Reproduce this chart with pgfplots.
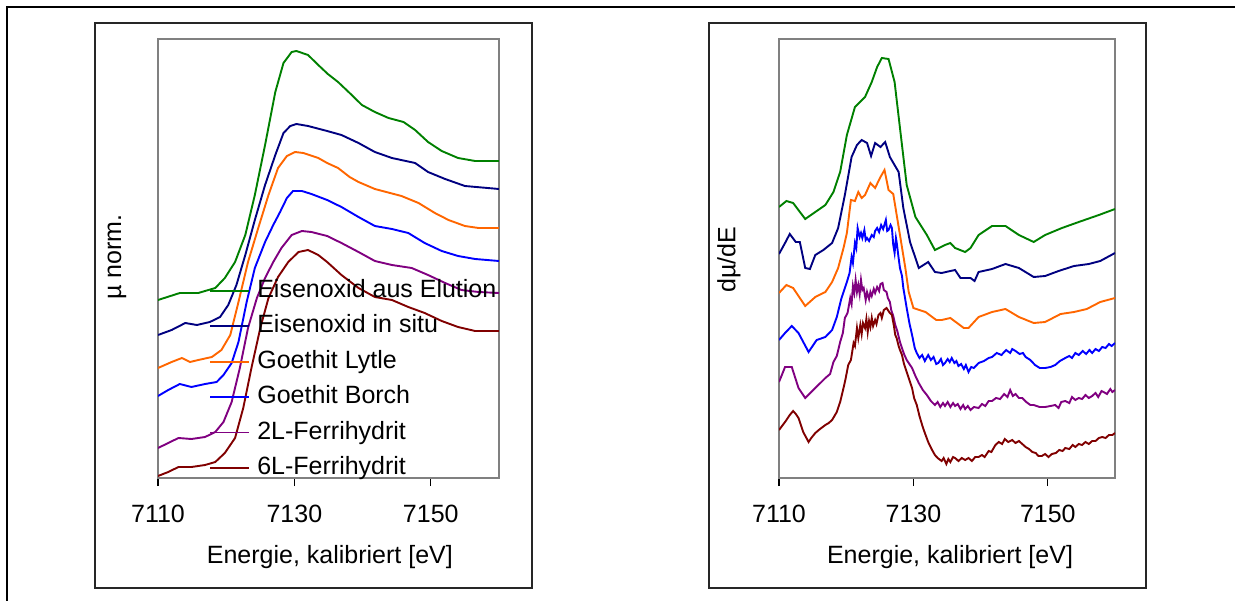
\documentclass[border=0pt]{standalone}
\usepackage{fontspec}
\setmainfont{Liberation Sans}
\usepackage{pgfplots}
\pgfplotsset{compat=1.18}

\definecolor{cgreen}{HTML}{008000}
\definecolor{cnavy}{HTML}{000080}
\definecolor{corange}{HTML}{FF6600}
\definecolor{cblue}{HTML}{0000FF}
\definecolor{cpurple}{HTML}{800080}
\definecolor{cmaroon}{HTML}{800000}

\pgfplotsset{
  xanes/.style={
    scale only axis,
    height=219.5pt,
    xmin=7110, xmax=7160, ymin=0, ymax=4.39,
    xtick={7110,7130,7150}, ytick=\empty,
    xtick pos=bottom,
    tick align=outside,
    major tick length=4pt,
    tick style={black, line width=0.6pt},
    axis line style={draw=gray, line width=0.6pt},
    font=\fontsize{12.5}{15}\selectfont,
    tick label style={font=\fontsize{12.5}{15}\selectfont},
    xticklabel style={anchor=north, inner sep=0pt, yshift=-9.5pt},
    /pgf/number format/1000 sep={},
    /pgf/number format/assume math mode=true,
    every axis plot/.append style={line width=0.95pt},
  }
}

\begin{document}
\begin{tikzpicture}
\useasboundingbox (0pt,0pt) rectangle (617.5pt,300pt);
\draw[line width=1.1pt] (3.65pt,296.5pt) rectangle (660pt,-30pt);
\draw[line width=0.6pt, black!85] (47.5pt,288.5pt) rectangle (266pt,6pt);
\draw[line width=0.6pt, black!85] (354.5pt,288.5pt) rectangle (573pt,6pt);

% left: normalised absorption
\begin{axis}[xanes, at={(79pt,61pt)}, anchor=south west, width=170.5pt,
  xlabel={Energie, kalibriert [eV]},
  xlabel style={at={(axis description cs:0.504,-0.18)}, anchor=center},
  ylabel={µ norm.},
  ylabel style={at={(axis description cs:-0.12,0.503)}, anchor=center},
  legend cell align=left,
  legend image code/.code={\draw[#1, line width=0.95pt] (0pt,0pt) -- (19.5pt,0pt);},
  legend style={draw=none, fill=none, inner sep=0pt,
    at={(axis description cs:0.1496,0.454)}, anchor=north west,
    row sep=5.9pt, column sep=3.5pt,
    nodes={inner sep=0pt, text height=9.2pt, text depth=2.6pt}},
]
\addplot[cgreen] coordinates {
(7110.0,1.78) (7113.2,1.85) (7115.9,1.85) (7118.4,1.90) (7119.8,2.00) (7121.3,2.16)
(7122.8,2.43) (7124.2,2.83) (7125.7,3.33) (7127.2,3.86) (7128.4,4.15) (7129.6,4.26)
(7130.3,4.27) (7132.0,4.23) (7133.5,4.13) (7134.9,4.04) (7136.4,3.96) (7138.1,3.85)
(7139.9,3.73) (7141.8,3.66) (7143.8,3.60) (7146.0,3.56) (7147.7,3.48) (7149.6,3.36)
(7151.6,3.27) (7154.0,3.20) (7156.5,3.17) (7160.0,3.17)};
\addlegendentry{Eisenoxid aus Elution}
\addplot[cnavy] coordinates {
(7110.0,1.43) (7112.0,1.48) (7114.0,1.55) (7115.7,1.53) (7117.6,1.56) (7119.1,1.61)
(7120.3,1.73) (7121.5,1.93) (7122.8,2.23) (7124.2,2.58) (7125.7,2.93) (7127.2,3.23)
(7128.4,3.45) (7129.4,3.52) (7130.3,3.54) (7132.0,3.52) (7134.8,3.47) (7136.9,3.43)
(7139.4,3.35) (7141.8,3.26) (7144.3,3.20) (7147.7,3.15) (7149.6,3.06) (7152.1,2.99)
(7155.0,2.92) (7160.0,2.89)};
\addlegendentry{Eisenoxid in situ}
\addplot[corange] coordinates {
(7110.0,1.10) (7112.0,1.16) (7113.5,1.20) (7114.7,1.16) (7115.9,1.18) (7117.9,1.21)
(7119.3,1.28) (7120.6,1.43) (7121.8,1.76) (7123.2,2.16) (7124.7,2.50) (7126.2,2.83)
(7127.6,3.10) (7128.9,3.22) (7130.1,3.26) (7131.3,3.25) (7133.5,3.20) (7134.8,3.15)
(7136.4,3.10) (7138.1,3.01) (7139.4,2.96) (7141.8,2.89) (7145.7,2.82) (7148.2,2.75)
(7150.6,2.65) (7152.6,2.58) (7155.0,2.52) (7157.0,2.50) (7160.0,2.50)};
\addlegendentry{Goethit Lytle}
\addplot[cblue] coordinates {
(7110.0,0.82) (7111.5,0.88) (7113.2,0.94) (7114.9,0.91) (7116.9,0.94) (7118.6,0.96)
(7119.6,1.03) (7120.8,1.15) (7121.8,1.36) (7123.0,1.76) (7124.2,2.10) (7125.7,2.36)
(7126.9,2.53) (7127.9,2.66) (7128.9,2.80) (7129.8,2.87) (7131.1,2.87) (7132.5,2.84)
(7134.8,2.78) (7136.9,2.71) (7139.4,2.61) (7141.8,2.52) (7144.3,2.49) (7146.7,2.45)
(7149.1,2.35) (7151.6,2.27) (7154.0,2.22) (7156.5,2.19) (7160.0,2.17)};
\addlegendentry{Goethit Borch}
\addplot[cpurple] coordinates {
(7110.0,0.30) (7111.5,0.35) (7113.0,0.40) (7114.9,0.39) (7116.9,0.41) (7118.4,0.46)
(7119.6,0.56) (7120.8,0.76) (7122.0,1.10) (7123.2,1.50) (7124.5,1.80) (7125.7,2.00)
(7126.9,2.16) (7128.1,2.30) (7129.6,2.43) (7131.1,2.47) (7132.5,2.46) (7134.8,2.42)
(7136.9,2.35) (7139.4,2.26) (7141.8,2.17) (7144.3,2.13) (7147.2,2.10) (7149.6,2.03)
(7152.1,1.95) (7154.5,1.88) (7157.0,1.86) (7160.0,1.85)};
\addlegendentry{2L-Ferrihydrit}
\addplot[cmaroon] coordinates {
(7110.0,0.02) (7111.5,0.06) (7113.0,0.11) (7114.9,0.11) (7116.9,0.13) (7118.4,0.16)
(7119.8,0.25) (7121.3,0.40) (7122.5,0.70) (7123.7,1.10) (7125.0,1.50) (7126.2,1.80)
(7127.6,2.01) (7129.1,2.16) (7130.6,2.26) (7132.0,2.28) (7133.5,2.23) (7134.8,2.16)
(7136.9,2.03) (7139.4,1.90) (7141.8,1.81) (7144.3,1.78) (7146.7,1.71) (7149.1,1.65)
(7151.6,1.57) (7154.0,1.51) (7156.5,1.47) (7160.0,1.47)};
\addlegendentry{6L-Ferrihydrit}
\end{axis}

% right: first derivative
\begin{axis}[xanes, at={(389.5pt,61pt)}, anchor=south west, width=168pt,
  xlabel={Energie, kalibriert [eV]},
  xlabel style={at={(axis description cs:0.509,-0.18)}, anchor=center},
  ylabel={dµ/dE},
  ylabel style={at={(axis description cs:-0.149,0.497)}, anchor=center},
]
\addplot[cgreen] coordinates {
(7110.0,2.71) (7111.1,2.77) (7112.1,2.75) (7113.9,2.59) (7115.4,2.66) (7116.9,2.73)
(7118.1,2.86) (7119.1,3.06) (7120.1,3.43) (7121.3,3.71) (7122.8,3.81) (7123.8,3.96)
(7124.6,4.11) (7125.3,4.20) (7126.3,4.19) (7127.2,3.96) (7128.0,3.50) (7129.0,2.93)
(7130.3,2.61) (7132.0,2.43) (7133.2,2.28) (7134.7,2.33) (7135.5,2.35) (7136.2,2.30)
(7137.7,2.26) (7138.5,2.30) (7139.7,2.43) (7141.7,2.52) (7143.7,2.52) (7145.7,2.43)
(7147.9,2.36) (7149.6,2.43) (7152.1,2.50) (7154.6,2.56) (7157.6,2.63) (7160.0,2.69)};
\addplot[cnavy] coordinates {
(7110.0,2.24) (7110.9,2.35) (7111.6,2.44) (7112.5,2.36) (7113.1,2.36) (7113.9,2.10)
(7114.6,2.09) (7115.4,2.23) (7116.6,2.28) (7117.9,2.35) (7118.8,2.50) (7119.8,2.83)
(7120.8,3.21) (7121.6,3.33) (7122.3,3.38) (7123.1,3.35) (7123.7,3.22) (7124.3,3.35)
(7125.1,3.31) (7125.8,3.36) (7126.5,3.21) (7127.8,3.06) (7128.5,2.70) (7129.5,2.36)
(7130.8,2.10) (7132.2,2.16) (7133.2,2.06) (7134.2,2.05) (7135.5,2.07) (7136.2,2.08)
(7137.0,2.00) (7138.5,2.00) (7139.1,1.97) (7139.7,2.06) (7141.7,2.09) (7143.7,2.14)
(7145.7,2.10) (7147.9,2.01) (7149.6,2.02) (7151.6,2.07) (7153.9,2.12) (7156.1,2.14)
(7157.8,2.17) (7160.0,2.25)};
\addplot[corange] coordinates {
(7110.0,1.85) (7111.1,1.93) (7112.1,1.90) (7113.9,1.72) (7115.4,1.81) (7116.9,1.86)
(7117.9,1.96) (7118.8,2.10) (7119.6,2.30) (7120.1,2.45) (7120.7,2.78) (7121.3,2.77)
(7121.8,2.86) (7122.3,2.80) (7122.8,2.83) (7123.6,2.95) (7124.3,2.90) (7125.1,3.01)
(7125.7,3.08) (7126.3,2.88) (7127.0,2.84) (7128.0,2.43) (7128.8,2.10) (7129.3,1.86)
(7130.0,1.70) (7131.8,1.66) (7133.4,1.58) (7134.2,1.58) (7135.5,1.60) (7137.5,1.50)
(7138.2,1.50) (7139.7,1.61) (7141.7,1.66) (7143.7,1.69) (7145.7,1.61) (7147.9,1.55)
(7149.6,1.56) (7151.9,1.64) (7153.9,1.66) (7155.8,1.69) (7157.8,1.76) (7160.0,1.80)};
\addplot[cblue] coordinates {
(7110.0,1.38) (7110.9,1.45) (7111.9,1.52) (7112.9,1.45) (7114.4,1.26) (7115.6,1.38)
(7116.9,1.41) (7117.9,1.48) (7118.6,1.61) (7119.3,1.80) (7120.1,1.96) (7120.5,2.05)
(7120.8,2.21) (7121.0,2.15) (7121.3,2.35) (7121.5,2.30) (7121.7,2.50) (7122.0,2.41)
(7122.2,2.45) (7122.4,2.40) (7122.7,2.48) (7122.9,2.38) (7123.1,2.40) (7123.4,2.37)
(7123.8,2.43) (7124.1,2.41) (7124.3,2.47) (7124.6,2.50) (7124.9,2.46) (7125.2,2.53)
(7125.5,2.49) (7125.9,2.58) (7126.1,2.47) (7126.3,2.48) (7126.6,2.53) (7126.8,2.50)
(7127.0,2.33) (7127.2,2.25) (7127.4,2.40) (7127.5,2.36) (7127.8,2.20) (7128.0,2.10)
(7128.3,2.02) (7128.5,1.90) (7129.0,1.70) (7129.4,1.55) (7129.8,1.43) (7130.2,1.30)
(7130.5,1.25) (7130.9,1.20) (7131.3,1.23) (7131.7,1.17) (7132.2,1.23) (7132.6,1.18)
(7133.0,1.21) (7133.4,1.14) (7133.7,1.15) (7134.1,1.19) (7134.4,1.13) (7134.7,1.15)
(7135.1,1.19) (7135.4,1.16) (7135.7,1.20) (7136.1,1.15) (7136.4,1.17) (7136.7,1.12)
(7137.1,1.14) (7137.5,1.09) (7137.8,1.13) (7138.2,1.06) (7138.6,1.11) (7139.0,1.10)
(7139.7,1.15) (7140.5,1.17) (7141.2,1.20) (7141.7,1.21) (7142.4,1.25) (7143.1,1.23)
(7143.8,1.28) (7144.4,1.25) (7144.7,1.29) (7145.2,1.27) (7145.8,1.24) (7146.3,1.25)
(7146.7,1.21) (7147.4,1.18) (7148.1,1.13) (7148.8,1.10) (7149.6,1.10) (7150.4,1.11)
(7151.1,1.13) (7151.8,1.17) (7152.6,1.20) (7153.2,1.22) (7153.6,1.20) (7154.1,1.25)
(7154.6,1.23) (7155.2,1.27) (7155.7,1.24) (7156.2,1.28) (7156.6,1.25) (7157.1,1.29)
(7157.6,1.27) (7158.1,1.31) (7158.6,1.30) (7159.1,1.34) (7159.5,1.32) (7160.0,1.35)};
\addplot[cpurple] coordinates {
(7110.0,0.96) (7110.9,1.11) (7111.9,1.11) (7112.9,0.90) (7113.9,0.80) (7115.4,0.90)
(7116.9,1.00) (7117.6,1.04) (7118.1,1.16) (7118.6,1.22) (7119.1,1.36) (7119.5,1.45)
(7119.8,1.60) (7120.2,1.65) (7120.6,1.80) (7120.8,1.74) (7121.0,1.92) (7121.2,1.85)
(7121.4,1.98) (7121.6,1.86) (7121.8,1.93) (7122.0,1.84) (7122.2,1.98) (7122.4,1.88)
(7122.6,1.90) (7122.9,1.78) (7123.1,1.86) (7123.4,1.79) (7123.6,1.86) (7123.8,1.82)
(7124.1,1.89) (7124.3,1.85) (7124.6,1.91) (7124.9,1.87) (7125.1,1.94) (7125.4,1.95)
(7125.6,1.88) (7126.0,1.86) (7126.2,1.80) (7126.5,1.76) (7126.7,1.68) (7127.0,1.62)
(7127.3,1.53) (7127.6,1.47) (7128.0,1.36) (7128.3,1.30) (7128.6,1.24) (7129.0,1.18)
(7129.4,1.14) (7129.8,1.10) (7130.3,1.02) (7130.8,0.95) (7131.4,0.88) (7132.0,0.83)
(7132.6,0.77) (7133.2,0.73) (7133.6,0.76) (7134.0,0.71) (7134.4,0.75) (7134.7,0.72)
(7135.1,0.76) (7135.5,0.71) (7135.9,0.75) (7136.2,0.72) (7136.6,0.74) (7137.0,0.69)
(7137.4,0.73) (7137.7,0.69) (7138.1,0.72) (7138.5,0.68) (7139.0,0.71) (7139.7,0.70)
(7140.2,0.74) (7140.7,0.72) (7141.2,0.77) (7141.7,0.77) (7142.3,0.80) (7142.9,0.79)
(7143.5,0.84) (7144.0,0.81) (7144.4,0.88) (7144.8,0.82) (7145.2,0.84) (7145.7,0.80)
(7146.2,0.80) (7146.8,0.76) (7147.4,0.73) (7147.9,0.73) (7148.8,0.71) (7149.6,0.71)
(7150.4,0.72) (7151.1,0.73) (7151.6,0.70) (7152.0,0.76) (7152.6,0.77) (7153.2,0.75)
(7153.6,0.81) (7154.1,0.78) (7154.6,0.80) (7155.1,0.79) (7155.6,0.83) (7156.1,0.80)
(7156.6,0.82) (7157.1,0.85) (7157.5,0.81) (7158.0,0.87) (7158.3,0.86) (7158.8,0.84)
(7159.3,0.89) (7159.6,0.86) (7160.0,0.88)};
\addplot[cmaroon] coordinates {
(7110.0,0.48) (7110.9,0.56) (7111.6,0.63) (7112.1,0.67) (7112.5,0.64) (7112.9,0.60)
(7113.6,0.46) (7114.4,0.36) (7114.8,0.40) (7115.4,0.45) (7116.1,0.49) (7116.9,0.53)
(7117.4,0.55) (7117.9,0.58) (7118.6,0.66) (7119.1,0.76) (7119.6,0.90) (7119.9,0.99)
(7120.3,1.13) (7120.7,1.18) (7121.1,1.35) (7121.3,1.32) (7121.6,1.50) (7121.8,1.40)
(7122.1,1.53) (7122.3,1.44) (7122.5,1.55) (7122.8,1.50) (7123.0,1.59) (7123.2,1.46)
(7123.4,1.57) (7123.6,1.51) (7123.8,1.60) (7124.0,1.52) (7124.3,1.58) (7124.5,1.54)
(7124.8,1.63) (7125.1,1.65) (7125.3,1.60) (7125.6,1.68) (7126.0,1.70) (7126.3,1.67)
(7126.5,1.65) (7126.8,1.63) (7127.1,1.52) (7127.3,1.43) (7127.5,1.40) (7127.8,1.32)
(7128.0,1.28) (7128.3,1.23) (7128.6,1.14) (7129.0,1.06) (7129.3,1.00) (7129.8,0.90)
(7130.1,0.80) (7130.5,0.73) (7130.9,0.62) (7131.3,0.53) (7131.7,0.45) (7132.2,0.36)
(7132.7,0.29) (7133.2,0.23) (7133.6,0.20) (7134.2,0.17) (7134.5,0.20) (7134.9,0.14)
(7135.2,0.19) (7135.5,0.16) (7135.9,0.21) (7136.2,0.20) (7136.7,0.17) (7137.2,0.20)
(7137.7,0.18) (7138.2,0.20) (7138.7,0.17) (7139.2,0.21) (7139.7,0.21) (7140.2,0.23)
(7140.6,0.21) (7141.2,0.27) (7141.6,0.26) (7142.2,0.33) (7142.7,0.36) (7143.2,0.34)
(7143.6,0.39) (7144.1,0.36) (7144.7,0.38) (7145.2,0.35) (7145.7,0.37) (7146.2,0.34)
(7146.7,0.31) (7147.2,0.29) (7147.7,0.26) (7148.2,0.25) (7148.6,0.22) (7149.1,0.22)
(7149.6,0.24) (7150.1,0.21) (7150.6,0.24) (7151.2,0.25) (7151.7,0.28) (7152.2,0.27)
(7152.6,0.30) (7153.2,0.29) (7153.7,0.33) (7154.1,0.31) (7154.6,0.34) (7155.1,0.33)
(7155.6,0.36) (7156.1,0.34) (7156.6,0.37) (7157.1,0.37) (7157.6,0.40) (7158.1,0.41)
(7158.6,0.40) (7159.1,0.43) (7159.6,0.43) (7160.0,0.45)};
\end{axis}
\end{tikzpicture}
\end{document}
